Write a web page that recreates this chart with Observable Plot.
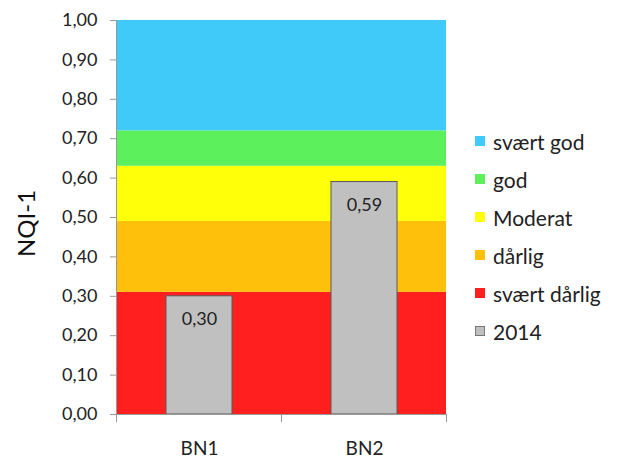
<!DOCTYPE html>
<html>
<head>
<meta charset="utf-8">
<script src="https://cdn.jsdelivr.net/npm/d3@7"></script>
<script src="https://cdn.jsdelivr.net/npm/@observablehq/plot@0.6"></script>
<style>
  html, body { margin: 0; padding: 0; background: #fff; }
  #wrap { position: relative; width: 625px; height: 471px; font-family: Lato, "Open Sans", sans-serif; }
  #legend { position: absolute; left: 475px; top: 122px; }
  .item { display: flex; align-items: center; height: 38px; font-size: 21px; color: #222; }
  .sw { width: 10px; height: 10px; margin-right: 8px; box-sizing: border-box; }
</style>
</head>
<body>
<div id="wrap"><div id="legend"></div></div>
<script>
// Data
const sites = ["BN1", "BN2"];
const values2014 = [0.30, 0.59];
const classNames = ["svært dårlig", "dårlig", "Moderat", "god", "svært god"];
const classLower = [0.00, 0.31, 0.49, 0.63, 0.72];
const classUpper = [0.31, 0.49, 0.63, 0.72, 1.00];
const classColors = ["#ff1f1f", "#ffc00c", "#ffff0a", "#5cf05c", "#40caf9"];
const yTicks = [0, 0.1, 0.2, 0.3, 0.4, 0.5, 0.6, 0.7, 0.8, 0.9, 1.0];
const seriesName = "2014";
const barColor = "#c0c0c0";

const fmt = d => d.toFixed(2).replace(".", ",");
const bars = sites.map((s, i) => ({site: s, value: values2014[i]}));
const bands = classNames.map((n, i) => ({name: n, y1: classLower[i], y2: classUpper[i], color: classColors[i]}));

const marginLeft = 116, marginRight = 179, marginTop = 20, marginBottom = 57;

const chart = Plot.plot({
  width: 625,
  height: 471,
  marginLeft, marginRight, marginTop, marginBottom,
  style: {fontFamily: "Lato, 'Open Sans', sans-serif", background: "transparent", overflow: "visible"},
  x: {type: "band", domain: sites, paddingInner: 0.6, paddingOuter: 0.3, label: null},
  y: {type: "linear", domain: [0, 1], label: null},
  marks: [
    Plot.rectY(bands, {y1: "y1", y2: "y2", fill: "color"}),
    Plot.barY(bars, {x: "site", y: "value", fill: barColor, stroke: "#5a5a5a", strokeWidth: 1}),
    Plot.text(bars, {x: "site", y: "value", text: d => fmt(d.value), dy: 23, fontSize: 18, fill: "#222"}),
    Plot.ruleY([0], {stroke: "#999", strokeWidth: 1}),
    Plot.axisY({ticks: yTicks, tickFormat: fmt, tickSize: 6, tickPadding: 13, fontSize: 18, stroke: "#999", fill: "#222", label: null}),
    Plot.axisX({tickSize: 0, tickPadding: 27, fontSize: 19, fill: "#222", label: null}),
    Plot.text(["NQI-1"], {frameAnchor: "left", textAnchor: "middle", dx: -89, dy: 6, rotate: -90, fontSize: 24, fill: "#111"})
  ]
});
document.getElementById("wrap").prepend(chart);

// Boundary tick marks under x axis (between categories) and left axis line
const xs = chart.scale("x");
const ys = chart.scale("y");
const svg = d3.select(chart);
const yBase = ys.apply(0);
const edges = [...sites.map(s => xs.apply(s) - (xs.step - xs.bandwidth) / 2), xs.apply(sites[sites.length - 1]) + xs.bandwidth + (xs.step - xs.bandwidth) / 2];
svg.append("g").selectAll("line").data(edges).join("line")
  .attr("x1", d => d).attr("x2", d => d)
  .attr("y1", yBase).attr("y2", yBase + 8)
  .attr("stroke", "#999");
svg.append("line").attr("x1", edges[0]).attr("x2", edges[0]).attr("y1", ys.apply(1)).attr("y2", yBase).attr("stroke", "#999");

// Legend
const legendItems = classNames.map((n, i) => ({name: n, color: classColors[i]})).reverse();
legendItems.push({name: seriesName, color: barColor, border: true});
const legend = d3.select("#legend");
legendItems.forEach(it => {
  const row = legend.append("div").attr("class", "item");
  row.append("div").attr("class", "sw").style("background", it.color)
    .style("border", it.border ? "1px solid #777" : "none");
  row.append("span").text(it.name);
});
</script>
</body>
</html>
